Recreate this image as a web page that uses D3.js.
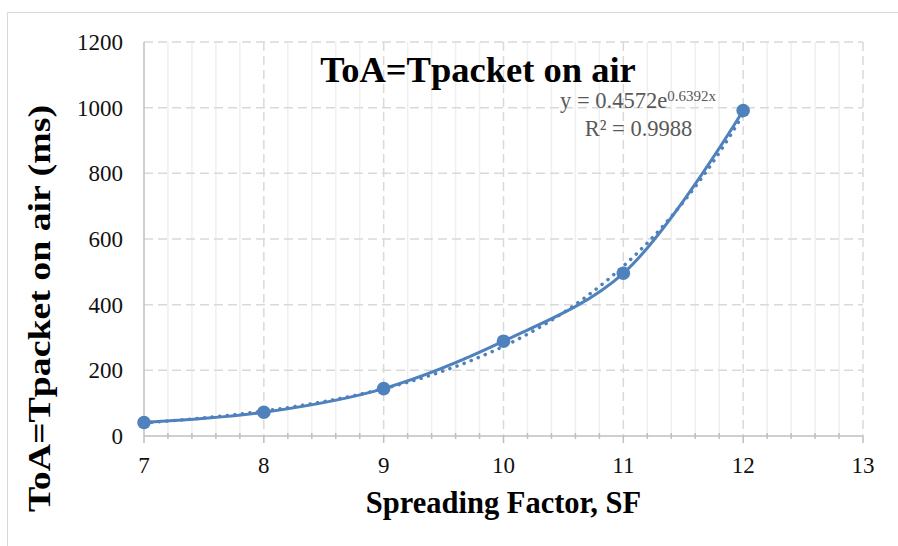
<!DOCTYPE html>
<html>
<head>
<meta charset="utf-8">
<script src="https://cdn.jsdelivr.net/npm/d3@7"></script>
<style>
  body { margin: 0; background: #fff; }
  text { font-family: "Liberation Serif", "Times New Roman", serif; }
</style>
</head>
<body>
<div id="wrapper"></div>
<script>
// data
const spreadingFactors = [7, 8, 9, 10, 11, 12]
const timeOnAir = [41.2, 72.2, 144.4, 288.8, 495.6, 991.2]
const yTicks = [0, 200, 400, 600, 800, 1000, 1200]
const xTicks = [7, 8, 9, 10, 11, 12, 13]
// exponential trendline shown on the chart
const trendA = 0.4572
const trendB = 0.6392
const trendLabel = "y = 0.4572e"
const trendExpLabel = "0.6392x"
const r2Label = "R² = 0.9988"

function drawChart() {
  const dataset = spreadingFactors.map((sf, i) => ({sf, toa: timeOnAir[i]}))

  const dimensions = {
    width: 898,
    height: 546,
    margin: {top: 42, right: 35, bottom: 110, left: 144}
  }
  dimensions.boundedWidth = dimensions.width - dimensions.margin.left - dimensions.margin.right
  dimensions.boundedHeight = dimensions.height - dimensions.margin.top - dimensions.margin.bottom

  const color = "#4f81bd"

  const wrapper = d3.select("#wrapper")
    .append("svg")
      .attr("width", dimensions.width)
      .attr("height", dimensions.height)

  // chart border (top and left edges visible)
  wrapper.append("path")
    .attr("d", "M7.5,546V12.5H898")
    .attr("fill", "none")
    .attr("stroke", "#d9d9d9")
    .attr("stroke-width", 1)

  const bounds = wrapper.append("g")
    .attr("transform", `translate(${dimensions.margin.left},${dimensions.margin.top})`)

  // scales
  const xScale = d3.scaleLinear()
    .domain([7, 13])
    .range([0, dimensions.boundedWidth])
  const yScale = d3.scaleLinear()
    .domain([0, 1200])
    .range([dimensions.boundedHeight, 0])

  const minorTicks = d3.range(7, 13.001, 0.2).filter(v => Math.abs(v - Math.round(v)) > 0.01)

  // minor vertical gridlines
  bounds.append("g").selectAll("line")
    .data(minorTicks)
    .join("line")
      .attr("x1", d => xScale(d))
      .attr("x2", d => xScale(d))
      .attr("y1", 0)
      .attr("y2", dimensions.boundedHeight)
      .attr("stroke", "#efefef")
      .attr("stroke-width", 1.5)

  // major gridlines, dashed
  bounds.append("g").selectAll("line")
    .data(yTicks.slice(1))
    .join("line")
      .attr("x1", 0)
      .attr("x2", dimensions.boundedWidth)
      .attr("y1", d => yScale(d))
      .attr("y2", d => yScale(d))
      .attr("stroke", "#d9d9d9")
      .attr("stroke-width", 1.5)
      .attr("stroke-dasharray", "9,5")
  bounds.append("g").selectAll("line")
    .data(xTicks.slice(1))
    .join("line")
      .attr("x1", d => xScale(d))
      .attr("x2", d => xScale(d))
      .attr("y1", 0)
      .attr("y2", dimensions.boundedHeight)
      .attr("stroke", "#d9d9d9")
      .attr("stroke-width", 1.5)
      .attr("stroke-dasharray", "9,5")

  // axes
  const xAxis = bounds.append("g")
    .attr("transform", `translate(0,${dimensions.boundedHeight})`)
  xAxis.append("line")
    .attr("x1", 0).attr("x2", dimensions.boundedWidth)
    .attr("stroke", "#bfbfbf").attr("stroke-width", 1.5)
  xAxis.selectAll(".major")
    .data(xTicks)
    .join("line")
      .attr("class", "major")
      .attr("x1", d => xScale(d)).attr("x2", d => xScale(d))
      .attr("y1", 0).attr("y2", 7)
      .attr("stroke", "#bfbfbf").attr("stroke-width", 1.5)
  xAxis.selectAll(".minor")
    .data(minorTicks)
    .join("line")
      .attr("class", "minor")
      .attr("x1", d => xScale(d)).attr("x2", d => xScale(d))
      .attr("y1", -3).attr("y2", 3)
      .attr("stroke", "#bfbfbf").attr("stroke-width", 1.5)
  xAxis.selectAll("text")
    .data(xTicks)
    .join("text")
      .attr("x", d => xScale(d))
      .attr("y", 37)
      .attr("text-anchor", "middle")
      .attr("font-size", 23)
      .attr("fill", "#111")
      .text(d => d)

  const yAxis = bounds.append("g")
  yAxis.append("line")
    .attr("y1", 0).attr("y2", dimensions.boundedHeight)
    .attr("stroke", "#bfbfbf").attr("stroke-width", 1.5)
  yAxis.selectAll("text")
    .data(yTicks)
    .join("text")
      .attr("x", -21)
      .attr("y", d => yScale(d) + 8)
      .attr("text-anchor", "end")
      .attr("font-size", 23)
      .attr("fill", "#111")
      .text(d => d)

  // trendline, dotted
  const trendPoints = d3.range(7, 12.0001, 0.05).map(x => ({sf: x, toa: trendA * Math.exp(trendB * x)}))
  const line = d3.line()
    .x(d => xScale(d.sf))
    .y(d => yScale(d.toa))
  bounds.append("path")
    .attr("d", line(trendPoints))
    .attr("fill", "none")
    .attr("stroke", color)
    .attr("stroke-width", 3.5)
    .attr("stroke-linecap", "round")
    .attr("stroke-dasharray", "0.1,7.5")

  // smoothed data line
  bounds.append("path")
    .attr("d", line.curve(d3.curveCatmullRom)(dataset))
    .attr("fill", "none")
    .attr("stroke", color)
    .attr("stroke-width", 3)

  bounds.append("g").selectAll("circle")
    .data(dataset)
    .join("circle")
      .attr("cx", d => xScale(d.sf))
      .attr("cy", d => yScale(d.toa))
      .attr("r", 6.8)
      .attr("fill", color)

  // titles
  wrapper.append("text")
    .attr("x", 478)
    .attr("y", 82)
    .attr("text-anchor", "middle")
    .attr("font-size", 36.5)
    .attr("font-weight", "bold")
    .attr("fill", "#000")
    .text("ToA=Tpacket on air")

  wrapper.append("text")
    .attr("x", dimensions.margin.left + dimensions.boundedWidth / 2)
    .attr("y", 513)
    .attr("text-anchor", "middle")
    .attr("font-size", 30.5)
    .attr("font-weight", "bold")
    .attr("fill", "#000")
    .text("Spreading Factor, SF")

  wrapper.append("text")
    .attr("transform", "translate(50,308.5) rotate(-90)")
    .attr("text-anchor", "middle")
    .attr("font-size", 31)
    .attr("font-weight", "bold")
    .attr("fill", "#000")
    .attr("textLength", 407)
    .attr("lengthAdjust", "spacingAndGlyphs")
    .text("ToA=Tpacket on air (ms)")

  // trendline equation
  const eq = wrapper.append("text")
    .attr("x", 638)
    .attr("y", 108)
    .attr("text-anchor", "middle")
    .attr("font-size", 22.5)
    .attr("fill", "#595959")
  eq.append("tspan").text(trendLabel)
  eq.append("tspan")
    .attr("font-size", 15)
    .attr("dy", -7)
    .text(trendExpLabel)

  wrapper.append("text")
    .attr("x", 638.5)
    .attr("y", 136)
    .attr("text-anchor", "middle")
    .attr("font-size", 22.5)
    .attr("fill", "#595959")
    .text(r2Label)
}

drawChart()
</script>
</body>
</html>
